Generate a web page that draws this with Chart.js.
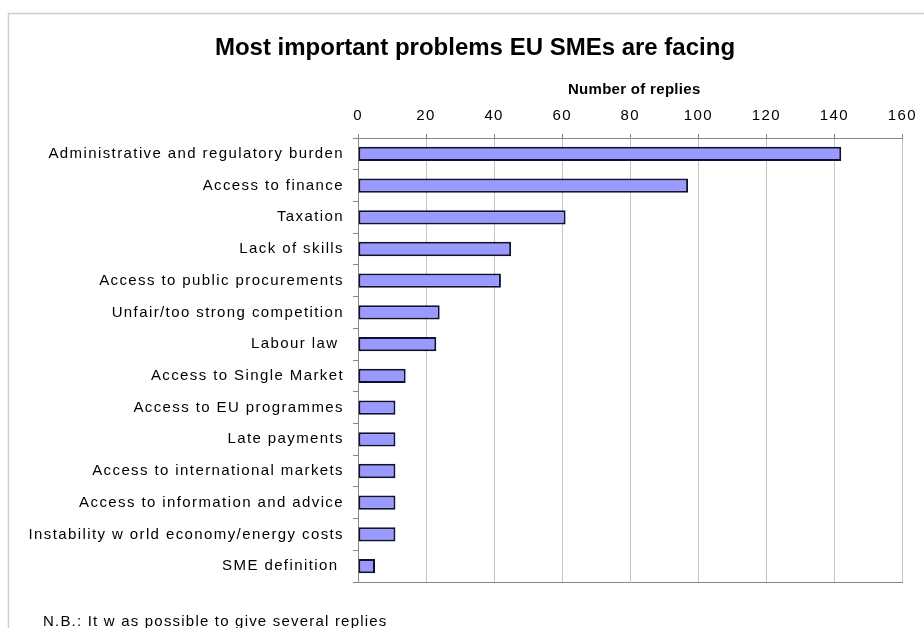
<!DOCTYPE html>
<html>
<head>
<meta charset="utf-8">
<script src="https://cdn.jsdelivr.net/npm/chart.js@4"></script>
<style>
  html, body { margin: 0; padding: 0; background: #fff; }
  #wrap { position: relative; width: 924px; height: 628px; }
</style>
</head>
<body>
<div id="wrap"><canvas id="smeChart" width="924" height="628"></canvas></div>
<script>
const categories = [
    'Administrative and regulatory burden',
    'Access to finance',
    'Taxation',
    'Lack of skills',
    'Access to public procurements',
    'Unfair/too strong competition',
    'Labour law ',
    'Access to Single Market',
    'Access to EU programmes',
    'Late payments',
    'Access to international markets',
    'Access to information and advice',
    'Instability w orld economy/energy costs',
    'SME definition '
];
const replies = [142, 97, 61, 45, 42, 24, 23, 14, 11, 11, 11, 11, 11, 5];
const xMin = 0, xMax = 160, xStep = 20;
const chartTitle = 'Most important problems EU SMEs are facing';
const axisTitle = 'Number of replies';
const footNote = 'N.B.: It w as possible to give several replies';

const fontFamily = '"Liberation Sans", Arial, sans-serif';

// frame, titles and footnote
const decorations = {
    id: 'decorations',
    beforeDraw(chart) {
        const ctx = chart.ctx;
        ctx.save();
        ctx.strokeStyle = '#cfcfcf';
        ctx.lineWidth = 1.5;
        ctx.strokeRect(8.5, 13.5, 1000, 1000);
        ctx.restore();
        ctx.letterSpacing = '1.4px';
    },
    afterDraw(chart) {
        const ctx = chart.ctx;
        const xs = chart.scales.x;
        ctx.save();
        ctx.letterSpacing = '0px';
        ctx.fillStyle = '#000';
        ctx.font = 'bold 24px ' + fontFamily;
        ctx.textAlign = 'center';
        ctx.textBaseline = 'alphabetic';
        ctx.fillText(chartTitle, 475, 55);

        ctx.font = 'bold 15px ' + fontFamily;
        ctx.textBaseline = 'middle';
        ctx.letterSpacing = '0.3px';
        ctx.fillText(axisTitle, (xs.left + xs.right) / 2 + 4, 90);

        ctx.letterSpacing = '1.2px';
        ctx.font = '15px ' + fontFamily;
        ctx.textAlign = 'left';
        ctx.fillText(footNote, 43, 622);
        ctx.restore();
    }
};

const ctx = document.getElementById('smeChart').getContext('2d');
const smeChart = new Chart(ctx, {
    type: 'bar',
    data: {
        labels: categories,
        datasets: [{
            data: replies,
            backgroundColor: '#9999ff',
            borderColor: '#101030',
            borderWidth: 2,
            borderSkipped: false,
            barPercentage: 0.45,
            categoryPercentage: 1
        }]
    },
    options: {
        indexAxis: 'y',
        responsive: false,
        animation: false,
        devicePixelRatio: 1,
        layout: {
            padding: { left: 0, right: 18, top: 78, bottom: 46 }
        },
        scales: {
            x: {
                position: 'top',
                min: xMin,
                max: xMax,
                ticks: {
                    stepSize: xStep,
                    autoSkip: false,
                    color: '#000',
                    padding: 9,
                    font: { family: fontFamily, size: 15 }
                },
                grid: {
                    color: c => c.index === 0 ? 'rgba(0,0,0,0)' : '#c4c4c4',
                    tickColor: '#888',
                    tickLength: 4
                },
                border: { color: '#888', width: 1 },
                title: { display: false },
                afterFit: s => { s.height = 60; }
            },
            x2: {
                type: 'linear',
                position: 'bottom',
                min: xMin,
                max: xMax,
                ticks: { display: false },
                grid: { display: false },
                border: { color: '#888', width: 1 },
                afterFit: s => { s.height = 0; }
            },
            y: {
                ticks: {
                    autoSkip: false,
                    color: '#000',
                    padding: 9,
                    font: { family: fontFamily, size: 15 }
                },
                grid: {
                    drawOnChartArea: false,
                    offset: true,
                    tickLength: 5,
                    tickColor: '#888'
                },
                border: { color: '#888', width: 1 },
                afterFit: s => { s.width = 358; }
            }
        },
        plugins: {
            legend: { display: false },
            tooltip: { enabled: false },
            title: { display: false }
        }
    },
    plugins: [decorations]
});
</script>
</body>
</html>
